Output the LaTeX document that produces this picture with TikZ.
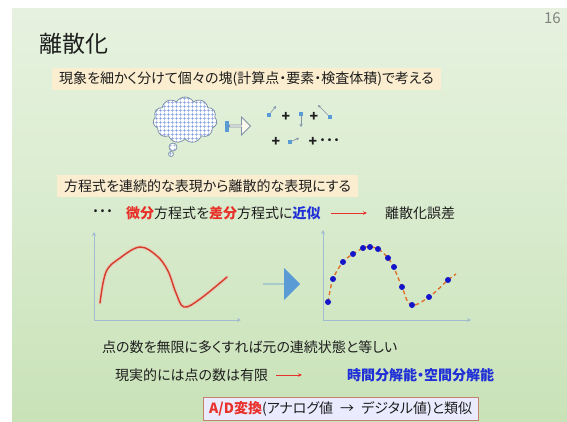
\documentclass[tikz,border=0pt]{standalone}
\usepackage{fontspec}
\setmainfont{Noto Sans CJK JP}[RawFeature=+palt]
\usetikzlibrary{arrows.meta, positioning, shapes.symbols, shapes.arrows, patterns}
\definecolor{ink}{HTML}{1E1E1E}
\definecolor{hot}{HTML}{E8312A}
\definecolor{cool}{HTML}{1F2FD8}
\definecolor{hl}{HTML}{FBEDCF}
\definecolor{axis}{HTML}{A2BCCF}
\definecolor{curve}{HTML}{D43E28}
\definecolor{dash}{HTML}{E0702A}
\definecolor{dot}{HTML}{1414C8}
\definecolor{block}{HTML}{5B9BD5}
\definecolor{frame}{HTML}{C4826E}
\definecolor{edge}{HTML}{7F93A8}
\definecolor{gridc}{HTML}{7C9BDC}
\definecolor{bgtop}{HTML}{F3F8F0}
\definecolor{bgup}{HTML}{DCEDD2}
\definecolor{bgmid}{HTML}{BEDCA9}
\definecolor{bgbot}{HTML}{CFE7C1}
\pgfdeclareverticalshading{slide}{100bp}{color(0bp)=(bgbot); color(8bp)=(bgmid); color(55bp)=(bgup); color(100bp)=(bgtop)}
% open mesh for the cloud
\pgfdeclarepatternformonly{mesh}{\pgfpointorigin}{\pgfpoint{3.6pt}{3.6pt}}{\pgfpoint{3.6pt}{3.6pt}}{
  \pgfsetlinewidth{0.35pt}
  \pgfpathmoveto{\pgfpoint{0pt}{1.8pt}}\pgfpathlineto{\pgfpoint{3.6pt}{1.8pt}}
  \pgfpathmoveto{\pgfpoint{1.8pt}{0pt}}\pgfpathlineto{\pgfpoint{1.8pt}{3.6pt}}
  \pgfusepath{stroke}}
\newcommand{\body}{\fontsize{14}{16}\selectfont}
\newcommand{\redw}[1]{\textcolor{hot}{\bfseries #1}}
\newcommand{\bluew}[1]{\textcolor{cool}{\bfseries #1}}
\tikzset{
  txt/.style={anchor=west, inner sep=0pt, text=ink, font=\body},
  hlbox/.style={txt, fill=hl, inner xsep=7pt, inner ysep=4pt},
  adbox/.style={txt, draw=frame, fill=white!92!blue, inner xsep=6pt, inner ysep=4pt},
  ttl/.style={anchor=west, inner sep=0pt, text=ink, font=\fontsize{23}{26}\selectfont},
  pnum/.style={anchor=east, inner sep=0pt, text=gray, font=\fontsize{15}{17}\selectfont},
  blob/.style={cloud, cloud puffs=11, cloud puff arc=120, aspect=1.4, draw=edge, thick,
    preaction={fill=white}, pattern=mesh, pattern color=gridc, inner sep=0pt},
  puff/.style={circle, draw=edge, thick, preaction={fill=white}, pattern=mesh, pattern color=gridc, inner sep=0pt},
  hollow/.style={single arrow, draw=edge, thick, fill=white!60!hl, minimum height=21pt,
    minimum width=18pt, single arrow head extend=3.5pt, inner sep=0pt},
  tab/.style={rectangle, fill=block, minimum width=4pt, minimum height=11pt, inner sep=0pt},
  sq/.style={rectangle, fill=block, minimum size=4pt, inner sep=0pt},
  vec/.style={-{Stealth[length=3pt, width=3pt]}, draw=edge, semithick},
  plus/.style={inner sep=0pt, text=ink, font=\fontsize{14}{16}\selectfont\bfseries},
  ra/.style={-{Stealth[length=4pt, width=3.5pt]}, draw=hot, line width=0.8pt},
  ax/.style={-{Stealth[length=4pt, width=4pt]}, draw=axis, line width=0.8pt},
  glow/.style={draw=curve!35, line width=3.5pt, line cap=round, opacity=0.6},
  wave/.style={draw=curve, line width=1.4pt, line cap=round},
  dashwave/.style={draw=dash, line width=1.4pt, dash pattern=on 4pt off 3pt},
  pt/.style={circle, fill=dot, minimum size=6pt, inner sep=0pt},
  fat/.style={single arrow, fill=block, minimum height=37pt, minimum width=32pt,
    single arrow head extend=9pt, inner sep=0pt},
}
\begin{document}
\begin{tikzpicture}[x=1pt, y=-1pt]
\useasboundingbox (0,0) rectangle (567,421);
\shade[shading=slide] (12,8) rectangle (567,421);

% heading
\node[pnum] (page) at (561,18) {16};
\node[ttl] (title) at (39,44) {離散化};

% splitting into pieces
\node[hlbox] (idea) at (52,79) {現象を細かく分けて個々の塊(計算点・要素・検査体積)で考える};
\node[blob, minimum width=64pt, minimum height=46pt] (whole) at (185,120) {};
\node[puff, minimum size=8pt] (tail1) at (173,147) {};
\node[puff, minimum size=5pt] (tail2) at (171,154) {};
\node[hollow] (into) at (239.5,126) {};
\node[tab, left=0pt of into.tail] (stub) {};

\node[sq] (s1) at (269,115) {};
\coordinate (t1) at (276,106);
\node[plus] (p1) at (286,117) {+};
\node[sq] (s2) at (301,114) {};
\coordinate (t2) at (301,127);
\node[plus] (p2) at (314,117) {+};
\node[sq] (s3) at (330,117) {};
\coordinate (t3) at (318,105);
\node[plus] (p3) at (276,142) {+};
\node[sq] (s4) at (290,142) {};
\coordinate (t4) at (299,138);
\node[plus] (p4) at (313,142) {+};
\node[plus, anchor=west] (more) at (319,142) {･･･};
\draw[vec] (s1) -- (t1);
\draw[vec] (s2) -- (t2);
\draw[vec] (s3) -- (t3);
\draw[vec] (s4) -- (t4);

% continuous to discrete
\node[hlbox] (goal) at (57,186) {方程式を連続的な表現から離散的な表現にする};
\node[txt, font=\body\bfseries] (lead) at (92,213) {･･･};
\node[txt] (approx) at (126,213) {\redw{微分}方程式を\redw{差分}方程式に\bluew{近似}};
\node[txt] (err) at (385,213) {離散化誤差};
\draw[ra] ([xshift=10pt]approx.east) -- ([xshift=-18pt]err.west);

% continuous curve
\coordinate (o1) at (94,320);
\coordinate (y1) at (94,232);
\coordinate (x1) at (241,320);
\draw[ax] (o1) -- (y1);
\draw[ax] (o1) -- (x1);
\draw[glow] plot[smooth, tension=0.6] coordinates {(100,303) (106,272) (120,258) (140,247) (157,256) (168,271) (176,293) (184,307) (200,299) (227,277)};
\draw[wave] plot[smooth, tension=0.6] coordinates {(100,303) (106,272) (120,258) (140,247) (157,256) (168,271) (176,293) (184,307) (200,299) (227,277)};

\node[fat] (then) at (281.5,284) {};

% sampled curve
\coordinate (o2) at (323,320);
\coordinate (y2) at (323,230);
\coordinate (x2) at (471,320);
\draw[ax] (o2) -- (y2);
\draw[ax] (o2) -- (x2);
\draw[dashwave] plot[smooth, tension=0.6] coordinates {(328,302) (333,279) (343,262) (353,254) (366,247) (378,249) (388,258) (394,268) (402,287) (411,305) (429,297) (448,280) (456,274)};
\foreach \px/\py [count=\i] in {328/302, 333/279, 343/262, 353/254, 363/248, 370/247, 378/249, 388/258, 394/267, 402/287, 412/305, 429/297, 448/280}
  \node[pt] (d\i) at (\px,\py) {};

% limits
\node[txt] (limit) at (102,347) {点の数を無限に多くすれば元の連続状態と等しい};
\node[txt] (finite) at (115,375) {現実的には点の数は有限};
\node[txt] (res) at (347,375) {\bluew{時間分解能・空間分解能}};
\draw[ra] ([xshift=8pt]finite.east) -- ([xshift=-45pt]res.west);
\node[adbox] (ad) at (203,409) {\redw{A/D変換}(アナログ値\enspace→\enspace デジタル値)と類似};
\end{tikzpicture}
\end{document}
